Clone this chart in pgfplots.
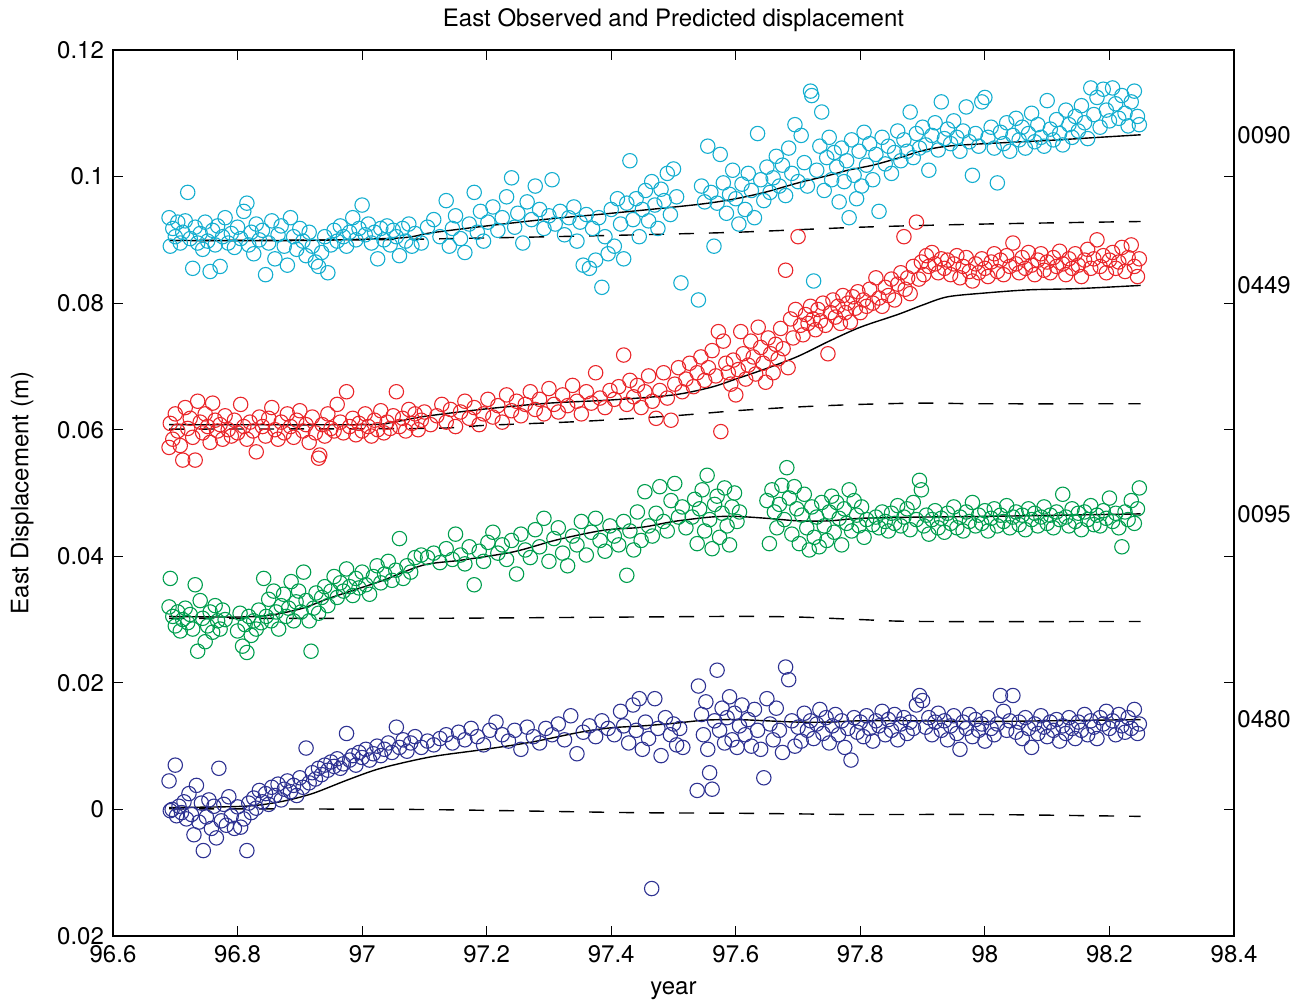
\documentclass[border=0pt]{standalone}
\usepackage{fontspec}
\setmainfont{TeX Gyre Heros}
\usepackage{pgfplots}
\pgfplotsset{compat=1.18}
\definecolor{cyanC}{RGB}{20,174,208}
\definecolor{redC}{RGB}{234,38,42}
\definecolor{greenC}{RGB}{0,158,78}
\definecolor{blueC}{RGB}{46,50,146}
\begin{document}
\begin{tikzpicture}
\begin{axis}[
  scale only axis, width=560.5pt, height=443pt,
  xmin=96.6, xmax=98.4, ymin=-0.02, ymax=0.12,
  xtick={96.6,96.8,97,97.2,97.4,97.6,97.8,98,98.2,98.4},
  ytick={-0.02,0,0.02,0.04,0.06,0.08,0.1,0.12},
  yticklabels={0.02,0,0.02,0.04,0.06,0.08,0.1,0.12},
  scaled x ticks=false, scaled y ticks=false,
  /pgf/number format/assume math mode=true,
  /pgf/number format/precision=1,
  tick align=inside, major tick length=5pt,
  tick style={black, line width=0.6pt},
  axis line style={line width=1pt},
  every axis/.append style={font=\fontsize{12}{14}\selectfont},
  tick label style={font=\fontsize{12}{14}\selectfont},
  xticklabel style={yshift=-1pt},
  yticklabel style={xshift=-1pt},
  xlabel={year},
  xlabel style={font=\fontsize{12}{14}\selectfont, at={(axis description cs:0.5,-0.062)}, anchor=center, yshift=0pt},
  ylabel={East Displacement (m)},
  ylabel style={font=\fontsize{12}{14}\selectfont, at={(axis description cs:-0.081,0.5)}, anchor=center},
  clip=false,
]
\coordinate (bl) at (rel axis cs:0,0);
\coordinate (tr) at (rel axis cs:1,1);
\node[anchor=center, font=\fontsize{12}{14}\selectfont] at (rel axis cs:0.5,1.034) {East Observed and Predicted displacement};
% 0480 blue
\addplot[only marks, mark=o, color=blueC, mark size=3.6pt, mark options={line width=0.55pt}] table {
x y
96.690 0.0045
96.692 -0.0002
96.695 0.0000
96.700 0.0070
96.702 -0.0010
96.706 0.0005
96.710 -0.0005
96.714 0.0012
96.718 -0.0015
96.722 0.0025
96.726 -0.0008
96.730 -0.0040
96.734 0.0038
96.738 -0.0020
96.742 0.0010
96.745 -0.0065
96.750 -0.0012
96.754 0.0015
96.758 -0.0030
96.762 0.0005
96.766 -0.0045
96.770 0.0065
96.774 -0.0018
96.778 0.0008
96.782 -0.0025
96.786 0.0020
96.790 -0.0010
96.795 -0.0030
96.800 0.0004
96.805 -0.0028
96.810 -0.0015
96.815 -0.0065
96.818 0.0010
96.822 -0.0005
96.826 0.0018
96.830 0.0002
96.835 0.0030
96.840 0.0012
96.845 0.0025
96.850 0.0008
96.855 0.0035
96.860 0.0022
96.865 0.0040
96.870 0.0015
96.875 0.0032
96.880 0.0045
96.885 0.0028
96.890 0.0038
96.895 0.0022
96.900 0.0050
96.905 0.0035
96.910 0.0097
96.915 0.0042
96.920 0.0058
96.925 0.0048
96.930 0.0065
96.935 0.0055
96.940 0.0070
96.945 0.0062
96.950 0.0075
96.955 0.0068
96.960 0.0080
96.965 0.0065
96.970 0.0072
96.975 0.0120
96.980 0.0078
96.985 0.0085
96.990 0.0070
96.995 0.0090
97.000 0.0082
97.006 0.0095
97.012 0.0078
97.018 0.0088
97.024 0.0100
97.030 0.0085
97.036 0.0095
97.042 0.0105
97.048 0.0090
97.055 0.0130
97.060 0.0098
97.066 0.0110
97.072 0.0092
97.078 0.0105
97.085 0.0115
97.095 0.0098
97.105 0.0108
97.115 0.0102
97.125 0.0112
97.135 0.0118
97.145 0.0105
97.155 0.0122
97.165 0.0110
97.175 0.0128
97.185 0.0115
97.195 0.0102
97.205 0.0125
97.215 0.0138
97.225 0.0118
97.235 0.0108
97.245 0.0125
97.255 0.0095
97.265 0.0130
97.275 0.0115
97.285 0.0105
97.295 0.0128
97.305 0.0118
97.315 0.0135
97.325 0.0110
97.335 0.0148
97.345 0.0088
97.355 0.0122
97.365 0.0132
97.375 0.0115
97.385 0.0140
97.395 0.0128
97.405 0.0118
97.415 0.0155
97.420 0.0132
97.428 0.0105
97.435 0.0165
97.440 0.0125
97.445 0.0175
97.450 0.0095
97.455 0.0138
97.460 0.0112
97.465 -0.0125
97.470 0.0175
97.475 0.0128
97.480 0.0085
97.487 0.0145
97.495 0.0118
97.500 0.0135
97.505 0.0102
97.510 0.0128
97.515 0.0098
97.538 0.0030
97.540 0.0195
97.545 0.0150
97.548 0.0118
97.552 0.0170
97.555 0.0095
97.558 0.0058
97.562 0.0032
97.566 0.0140
97.570 0.0220
97.574 0.0125
97.578 0.0160
97.582 0.0105
97.586 0.0145
97.590 0.0178
97.594 0.0110
97.598 0.0152
97.602 0.0098
97.606 0.0132
97.610 0.0165
97.615 0.0118
97.620 0.0142
97.625 0.0100
97.630 0.0158
97.635 0.0125
97.640 0.0095
97.645 0.0050
97.650 0.0175
97.655 0.0135
97.660 0.0110
97.665 0.0160
97.670 0.0125
97.675 0.0090
97.680 0.0225
97.685 0.0205
97.690 0.0140
97.695 0.0100
97.700 0.0130
97.705 0.0108
97.710 0.0152
97.715 0.0125
97.720 0.0140
97.725 0.0112
97.730 0.0135
97.735 0.0158
97.740 0.0120
97.745 0.0145
97.750 0.0105
97.755 0.0132
97.760 0.0150
97.765 0.0118
97.770 0.0140
97.775 0.0098
97.780 0.0128
97.785 0.0078
97.790 0.0145
97.795 0.0122
97.800 0.0138
97.805 0.0115
97.810 0.0148
97.815 0.0128
97.820 0.0108
97.825 0.0140
97.830 0.0132
97.835 0.0155
97.840 0.0118
97.845 0.0142
97.850 0.0125
97.855 0.0150
97.860 0.0110
97.865 0.0135
97.870 0.0145
97.875 0.0120
97.880 0.0138
97.885 0.0128
97.890 0.0165
97.895 0.0180
97.900 0.0172
97.905 0.0130
97.910 0.0145
97.915 0.0118
97.920 0.0138
97.925 0.0152
97.930 0.0125
97.935 0.0140
97.940 0.0110
97.945 0.0132
97.950 0.0148
97.955 0.0120
97.960 0.0095
97.965 0.0138
97.970 0.0128
97.975 0.0150
97.980 0.0115
97.985 0.0142
97.990 0.0125
97.995 0.0135
98.000 0.0108
98.005 0.0145
98.010 0.0128
98.015 0.0118
98.020 0.0135
98.025 0.0180
98.030 0.0155
98.035 0.0125
98.040 0.0140
98.045 0.0180
98.050 0.0122
98.055 0.0138
98.060 0.0112
98.065 0.0145
98.070 0.0128
98.075 0.0098
98.080 0.0135
98.085 0.0120
98.090 0.0148
98.095 0.0130
98.100 0.0115
98.105 0.0138
98.110 0.0125
98.115 0.0142
98.120 0.0108
98.125 0.0132
98.130 0.0120
98.135 0.0145
98.140 0.0128
98.145 0.0112
98.150 0.0138
98.155 0.0125
98.160 0.0150
98.165 0.0118
98.170 0.0140
98.175 0.0130
98.180 0.0112
98.185 0.0145
98.190 0.0135
98.195 0.0155
98.200 0.0128
98.205 0.0140
98.210 0.0118
98.215 0.0150
98.220 0.0132
98.225 0.0122
98.230 0.0145
98.235 0.0128
98.240 0.0158
98.245 0.0120
98.248 0.0135
};
% 0095 green
\addplot[only marks, mark=o, color=greenC, mark size=3.6pt, mark options={line width=0.55pt}] table {
x y
96.690 0.0320
96.692 0.0365
96.696 0.0305
96.700 0.0290
96.704 0.0312
96.708 0.0282
96.712 0.0300
96.716 0.0318
96.720 0.0295
96.724 0.0308
96.728 0.0285
96.732 0.0355
96.736 0.0250
96.740 0.0330
96.744 0.0302
96.748 0.0265
96.752 0.0290
96.756 0.0312
96.760 0.0280
96.764 0.0322
96.768 0.0298
96.772 0.0285
96.776 0.0315
96.780 0.0300
96.800 0.0282
96.804 0.0310
96.808 0.0258
96.812 0.0292
96.815 0.0248
96.818 0.0305
96.822 0.0275
96.826 0.0298
96.830 0.0285
96.834 0.0315
96.838 0.0295
96.842 0.0365
96.846 0.0305
96.850 0.0332
96.854 0.0298
96.858 0.0345
96.862 0.0312
96.866 0.0285
96.870 0.0322
96.874 0.0340
96.878 0.0305
96.882 0.0318
96.886 0.0360
96.890 0.0298
96.894 0.0328
96.898 0.0345
96.902 0.0312
96.906 0.0375
96.910 0.0330
96.915 0.0298
96.918 0.0250
96.922 0.0318
96.926 0.0342
96.930 0.0310
96.935 0.0335
96.940 0.0352
96.945 0.0322
96.950 0.0345
96.955 0.0368
96.960 0.0335
96.965 0.0358
96.970 0.0345
96.975 0.0380
96.980 0.0352
96.985 0.0338
96.990 0.0365
96.995 0.0350
97.000 0.0375
97.006 0.0355
97.012 0.0340
97.018 0.0368
97.024 0.0385
97.030 0.0358
97.036 0.0372
97.042 0.0392
97.048 0.0362
97.054 0.0378
97.060 0.0428
97.066 0.0365
97.072 0.0385
97.078 0.0375
97.085 0.0398
97.095 0.0402
97.105 0.0398
97.115 0.0405
97.125 0.0390
97.135 0.0412
97.145 0.0395
97.150 0.0435
97.158 0.0402
97.165 0.0388
97.172 0.0415
97.180 0.0355
97.188 0.0408
97.195 0.0392
97.202 0.0422
97.210 0.0438
97.218 0.0405
97.225 0.0418
97.232 0.0395
97.240 0.0425
97.248 0.0372
97.255 0.0435
97.262 0.0410
97.270 0.0398
97.278 0.0442
97.285 0.0415
97.292 0.0460
97.300 0.0392
97.308 0.0428
97.315 0.0445
97.322 0.0405
97.330 0.0385
97.338 0.0432
97.345 0.0418
97.352 0.0455
97.360 0.0402
97.368 0.0438
97.375 0.0460
97.382 0.0425
97.390 0.0408
97.398 0.0448
97.405 0.0432
97.412 0.0418
97.420 0.0455
97.425 0.0370
97.430 0.0440
97.436 0.0410
97.442 0.0470
97.448 0.0425
97.454 0.0502
97.460 0.0448
97.466 0.0432
97.472 0.0468
97.478 0.0510
97.484 0.0455
97.490 0.0440
97.496 0.0488
97.502 0.0515
97.508 0.0462
97.514 0.0478
97.520 0.0445
97.530 0.0462
97.534 0.0490
97.538 0.0420
97.542 0.0475
97.546 0.0505
97.550 0.0440
97.554 0.0528
97.558 0.0458
97.562 0.0412
97.566 0.0482
97.570 0.0495
97.574 0.0430
97.578 0.0468
97.582 0.0508
97.586 0.0448
97.590 0.0418
97.594 0.0478
97.598 0.0500
97.602 0.0455
97.606 0.0470
97.650 0.0488
97.654 0.0420
97.658 0.0505
97.662 0.0470
97.666 0.0445
97.670 0.0482
97.674 0.0512
97.678 0.0458
97.682 0.0540
97.686 0.0492
97.690 0.0435
97.694 0.0510
97.698 0.0475
97.702 0.0420
97.706 0.0465
97.710 0.0498
97.714 0.0445
97.718 0.0410
97.722 0.0478
97.726 0.0430
97.730 0.0462
97.734 0.0415
97.738 0.0485
97.742 0.0448
97.746 0.0425
97.750 0.0470
97.754 0.0495
97.758 0.0438
97.762 0.0485
97.766 0.0460
97.770 0.0418
97.774 0.0475
97.778 0.0452
97.782 0.0505
97.786 0.0440
97.790 0.0488
97.794 0.0465
97.798 0.0448
97.802 0.0478
97.806 0.0430
97.810 0.0458
97.820 0.0450
97.825 0.0462
97.830 0.0445
97.835 0.0470
97.840 0.0455
97.845 0.0440
97.850 0.0468
97.855 0.0452
97.860 0.0480
97.865 0.0448
97.870 0.0462
97.875 0.0475
97.880 0.0442
97.885 0.0485
97.890 0.0458
97.895 0.0520
97.898 0.0505
97.902 0.0448
97.906 0.0465
97.910 0.0435
97.915 0.0458
97.920 0.0472
97.925 0.0445
97.930 0.0460
97.935 0.0438
97.940 0.0468
97.945 0.0452
97.950 0.0478
97.955 0.0445
97.960 0.0462
97.965 0.0440
97.970 0.0470
97.975 0.0455
97.980 0.0485
97.985 0.0448
97.990 0.0465
97.995 0.0452
98.000 0.0472
98.005 0.0440
98.010 0.0460
98.015 0.0475
98.020 0.0448
98.025 0.0465
98.030 0.0455
98.035 0.0480
98.040 0.0445
98.045 0.0462
98.050 0.0470
98.055 0.0450
98.060 0.0465
98.065 0.0442
98.070 0.0475
98.075 0.0458
98.080 0.0468
98.085 0.0448
98.090 0.0462
98.095 0.0478
98.100 0.0452
98.105 0.0465
98.110 0.0445
98.115 0.0470
98.120 0.0458
98.125 0.0498
98.130 0.0462
98.135 0.0448
98.140 0.0475
98.145 0.0455
98.150 0.0468
98.155 0.0442
98.160 0.0470
98.165 0.0458
98.170 0.0480
98.175 0.0450
98.180 0.0465
98.185 0.0448
98.190 0.0472
98.195 0.0460
98.200 0.0492
98.205 0.0455
98.210 0.0468
98.215 0.0445
98.220 0.0415
98.225 0.0470
98.230 0.0458
98.235 0.0488
98.240 0.0452
98.245 0.0475
98.248 0.0508
};
% 0449 red
\addplot[only marks, mark=o, color=redC, mark size=3.6pt, mark options={line width=0.55pt}] table {
x y
96.690 0.0572
96.692 0.0610
96.696 0.0585
96.700 0.0625
96.704 0.0598
96.708 0.0575
96.712 0.0552
96.716 0.0635
96.720 0.0602
96.724 0.0618
96.728 0.0588
96.732 0.0552
96.736 0.0645
96.740 0.0612
96.744 0.0595
96.748 0.0625
96.752 0.0605
96.756 0.0580
96.760 0.0642
96.764 0.0615
96.768 0.0598
96.772 0.0608
96.776 0.0585
96.780 0.0622
96.785 0.0600
96.790 0.0590
96.795 0.0615
96.800 0.0595
96.805 0.0640
96.810 0.0605
96.815 0.0585
96.820 0.0612
96.825 0.0598
96.830 0.0565
96.835 0.0620
96.840 0.0605
96.845 0.0590
96.850 0.0618
96.855 0.0635
96.860 0.0600
96.865 0.0585
96.870 0.0612
96.875 0.0595
96.880 0.0625
96.885 0.0605
96.890 0.0588
96.895 0.0615
96.900 0.0630
96.905 0.0598
96.910 0.0608
96.915 0.0580
96.920 0.0620
96.925 0.0595
96.930 0.0555
96.932 0.0560
96.936 0.0608
96.940 0.0590
96.945 0.0625
96.950 0.0602
96.955 0.0598
96.960 0.0640
96.965 0.0612
96.970 0.0595
96.975 0.0660
96.980 0.0605
96.985 0.0618
96.990 0.0592
96.995 0.0610
97.000 0.0598
97.005 0.0625
97.010 0.0605
97.015 0.0590
97.020 0.0615
97.025 0.0600
97.030 0.0630
97.035 0.0595
97.040 0.0612
97.045 0.0602
97.050 0.0622
97.055 0.0660
97.060 0.0605
97.065 0.0618
97.070 0.0598
97.075 0.0632
97.080 0.0610
97.085 0.0625
97.090 0.0600
97.095 0.0615
97.100 0.0628
97.110 0.0608
97.120 0.0622
97.128 0.0640
97.135 0.0612
97.142 0.0632
97.150 0.0605
97.158 0.0628
97.165 0.0645
97.172 0.0618
97.180 0.0635
97.188 0.0608
97.195 0.0625
97.202 0.0648
97.210 0.0620
97.218 0.0638
97.225 0.0612
97.232 0.0655
97.240 0.0630
97.248 0.0645
97.255 0.0622
97.262 0.0640
97.270 0.0660
97.278 0.0632
97.285 0.0648
97.292 0.0625
97.300 0.0665
97.308 0.0640
97.315 0.0628
97.322 0.0655
97.330 0.0638
97.338 0.0670
97.345 0.0645
97.352 0.0625
97.360 0.0660
97.368 0.0642
97.375 0.0690
97.382 0.0650
97.390 0.0635
97.398 0.0662
97.405 0.0648
97.412 0.0668
97.420 0.0718
97.425 0.0640
97.430 0.0678
97.436 0.0652
97.442 0.0670
97.448 0.0635
97.454 0.0660
97.460 0.0685
97.466 0.0645
97.472 0.0618
97.478 0.0662
97.484 0.0690
97.490 0.0650
97.496 0.0615
97.502 0.0672
97.508 0.0698
97.514 0.0660
97.520 0.0680
97.526 0.0705
97.532 0.0668
97.538 0.0690
97.544 0.0715
97.550 0.0678
97.556 0.0698
97.562 0.0725
97.568 0.0685
97.572 0.0755
97.576 0.0597
97.580 0.0740
97.584 0.0705
97.588 0.0690
97.592 0.0672
97.596 0.0710
97.600 0.0655
97.604 0.0695
97.608 0.0755
97.612 0.0720
97.616 0.0680
97.620 0.0702
97.624 0.0740
97.628 0.0715
97.632 0.0688
97.636 0.0762
97.640 0.0730
97.644 0.0705
97.648 0.0675
97.652 0.0745
97.656 0.0720
97.660 0.0690
97.664 0.0735
97.668 0.0712
97.672 0.0760
97.676 0.0728
97.680 0.0852
97.684 0.0698
97.688 0.0775
97.692 0.0745
97.696 0.0790
97.700 0.0905
97.704 0.0765
97.708 0.0750
97.712 0.0782
97.716 0.0768
97.720 0.0795
97.724 0.0775
97.728 0.0758
97.732 0.0790
97.736 0.0772
97.740 0.0800
97.744 0.0765
97.748 0.0720
97.752 0.0785
97.756 0.0805
97.760 0.0778
97.764 0.0795
97.768 0.0768
97.772 0.0812
97.776 0.0785
97.780 0.0800
97.784 0.0770
97.788 0.0810
97.792 0.0792
97.796 0.0818
97.800 0.0785
97.805 0.0805
97.810 0.0795
97.815 0.0822
97.820 0.0800
97.825 0.0840
97.830 0.0808
97.835 0.0795
97.840 0.0825
97.845 0.0812
97.850 0.0838
97.855 0.0805
97.860 0.0830
97.865 0.0848
97.870 0.0905
97.872 0.0822
97.876 0.0840
97.880 0.0815
97.885 0.0858
97.890 0.0928
97.894 0.0838
97.898 0.0865
97.902 0.0845
97.906 0.0875
97.910 0.0858
97.915 0.0880
97.920 0.0862
97.925 0.0848
97.930 0.0870
97.935 0.0855
97.940 0.0868
97.945 0.0845
97.950 0.0862
97.955 0.0875
97.960 0.0840
97.965 0.0858
97.970 0.0872
97.975 0.0850
97.980 0.0835
97.985 0.0862
97.990 0.0848
97.995 0.0870
98.000 0.0855
98.005 0.0842
98.010 0.0865
98.015 0.0878
98.020 0.0850
98.025 0.0868
98.030 0.0845
98.035 0.0875
98.040 0.0858
98.045 0.0895
98.050 0.0862
98.055 0.0848
98.060 0.0872
98.065 0.0855
98.070 0.0880
98.075 0.0860
98.080 0.0845
98.085 0.0868
98.090 0.0878
98.095 0.0852
98.100 0.0865
98.105 0.0848
98.110 0.0872
98.115 0.0858
98.120 0.0882
98.125 0.0862
98.130 0.0845
98.135 0.0870
98.140 0.0855
98.145 0.0878
98.150 0.0860
98.155 0.0842
98.160 0.0868
98.165 0.0885
98.170 0.0855
98.175 0.0870
98.180 0.0900
98.185 0.0858
98.190 0.0875
98.195 0.0848
98.200 0.0868
98.205 0.0880
98.210 0.0855
98.215 0.0865
98.220 0.0888
98.225 0.0850
98.230 0.0872
98.235 0.0892
98.240 0.0858
98.245 0.0842
98.248 0.0870
};
% 0090 cyan
\addplot[only marks, mark=o, color=cyanC, mark size=3.6pt, mark options={line width=0.55pt}] table {
x y
96.690 0.0935
96.692 0.0890
96.696 0.0918
96.700 0.0905
96.704 0.0928
96.708 0.0895
96.712 0.0912
96.716 0.0930
96.720 0.0975
96.724 0.0902
96.728 0.0855
96.732 0.0920
96.736 0.0895
96.740 0.0910
96.744 0.0885
96.748 0.0928
96.752 0.0898
96.756 0.0850
96.760 0.0915
96.764 0.0892
96.768 0.0922
96.772 0.0858
96.776 0.0905
96.780 0.0935
96.785 0.0895
96.790 0.0910
96.795 0.0888
96.800 0.0920
96.805 0.0902
96.810 0.0945
96.815 0.0958
96.818 0.0892
96.822 0.0912
96.826 0.0878
96.830 0.0925
96.835 0.0900
96.840 0.0915
96.845 0.0845
96.850 0.0895
96.855 0.0930
96.860 0.0870
96.865 0.0908
96.870 0.0922
96.875 0.0890
96.880 0.0860
96.885 0.0935
96.890 0.0905
96.895 0.0885
96.900 0.0918
96.905 0.0898
96.910 0.0875
96.915 0.0912
96.920 0.0890
96.925 0.0865
96.930 0.0858
96.935 0.0880
96.940 0.0905
96.945 0.0848
96.950 0.0892
96.955 0.0915
96.960 0.0898
96.965 0.0922
96.970 0.0905
96.975 0.0890
96.980 0.0912
96.985 0.0935
96.990 0.0900
96.995 0.0918
97.000 0.0955
97.005 0.0908
97.010 0.0925
97.015 0.0895
97.020 0.0912
97.025 0.0870
97.030 0.0918
97.035 0.0900
97.040 0.0922
97.045 0.0892
97.050 0.0915
97.055 0.0905
97.060 0.0875
97.065 0.0918
97.070 0.0898
97.075 0.0925
97.080 0.0890
97.085 0.0910
97.095 0.0895
97.105 0.0920
97.115 0.0932
97.125 0.0905
97.135 0.0962
97.140 0.0890
97.145 0.0918
97.150 0.0938
97.158 0.0902
97.165 0.0880
97.172 0.0925
97.180 0.0975
97.185 0.0912
97.190 0.0945
97.195 0.0898
97.202 0.0928
97.210 0.0952
97.218 0.0915
97.225 0.0935
97.232 0.0968
97.240 0.0998
97.245 0.0920
97.250 0.0942
97.258 0.0895
97.265 0.0960
97.272 0.0932
97.278 0.0985
97.285 0.0948
97.292 0.0918
97.300 0.0938
97.305 0.0995
97.310 0.0925
97.318 0.0945
97.325 0.0908
97.332 0.0935
97.340 0.0952
97.345 0.0898
97.350 0.0928
97.355 0.0860
97.360 0.0940
97.365 0.0855
97.370 0.0918
97.375 0.0868
97.380 0.0935
97.385 0.0825
97.390 0.0905
97.395 0.0878
97.400 0.0948
97.405 0.0890
97.410 0.0965
97.415 0.0925
97.420 0.0870
97.425 0.0958
97.430 0.1025
97.435 0.0932
97.440 0.0965
97.445 0.0905
97.450 0.0948
97.455 0.0978
97.460 0.0930
97.465 0.0992
97.470 0.0955
97.475 0.0918
97.480 0.0980
97.485 0.0962
97.490 0.1005
97.495 0.0940
97.500 0.1012
97.505 0.0968
97.512 0.0832
97.540 0.0805
97.545 0.0985
97.550 0.0960
97.555 0.1048
97.560 0.0975
97.565 0.0890
97.570 0.0958
97.575 0.1035
97.580 0.0990
97.585 0.0942
97.590 0.0972
97.595 0.1010
97.600 0.0965
97.605 0.0925
97.610 0.0988
97.615 0.0948
97.620 0.1005
97.625 0.0978
97.630 0.0935
97.635 0.1068
97.640 0.0995
97.645 0.0962
97.650 0.1015
97.655 0.0975
97.660 0.0998
97.665 0.1032
97.670 0.0985
97.675 0.1018
97.680 0.0970
97.685 0.1045
97.690 0.1005
97.695 0.1082
97.700 0.0992
97.705 0.1065
97.710 0.1022
97.715 0.0985
97.720 0.1135
97.722 0.1128
97.725 0.0835
97.730 0.1010
97.735 0.1048
97.738 0.1102
97.742 0.0978
97.746 0.1030
97.750 0.1062
97.754 0.0995
97.758 0.1038
97.762 0.1015
97.766 0.0960
97.770 0.1045
97.774 0.0992
97.778 0.1025
97.782 0.0935
97.786 0.1058
97.790 0.1002
97.794 0.0965
97.798 0.1040
97.802 0.0985
97.806 0.1070
97.810 0.1018
97.815 0.1052
97.820 0.0995
97.825 0.1035
97.830 0.0945
97.835 0.1062
97.840 0.1020
97.845 0.1048
97.850 0.1005
97.855 0.1038
97.860 0.1072
97.865 0.1025
97.870 0.1058
97.875 0.1040
97.880 0.1102
97.885 0.1030
97.890 0.1068
97.895 0.1045
97.900 0.1078
97.905 0.1050
97.910 0.1010
97.915 0.1065
97.920 0.1085
97.925 0.1042
97.930 0.1118
97.935 0.1060
97.940 0.1075
97.945 0.1052
97.950 0.1088
97.955 0.1062
97.960 0.1040
97.965 0.1072
97.970 0.1110
97.975 0.1055
97.980 0.1002
97.985 0.1068
97.990 0.1048
97.995 0.1118
98.000 0.1125
98.005 0.1062
98.010 0.1078
98.015 0.1045
98.020 0.0990
98.025 0.1070
98.030 0.1052
98.035 0.1085
98.040 0.1040
98.045 0.1065
98.050 0.1092
98.055 0.1058
98.060 0.1078
98.065 0.1045
98.070 0.1068
98.075 0.1100
98.080 0.1055
98.085 0.1082
98.090 0.1062
98.095 0.1048
98.100 0.1120
98.105 0.1075
98.110 0.1058
98.115 0.1090
98.120 0.1068
98.125 0.1050
98.130 0.1105
98.135 0.1082
98.140 0.1062
98.145 0.1095
98.150 0.1072
98.155 0.1112
98.160 0.1085
98.165 0.1060
98.170 0.1140
98.175 0.1098
98.180 0.1125
98.185 0.1078
98.190 0.1138
98.195 0.1105
98.200 0.1088
98.205 0.1140
98.210 0.1115
98.215 0.1092
98.220 0.1128
98.225 0.1100
98.230 0.1080
98.235 0.1118
98.240 0.1135
98.245 0.1095
98.248 0.1082
};
% predicted lines (solid)
\addplot[black, line width=0.7pt, smooth] coordinates {(96.69,0.0899) (96.9,0.0899) (97.06,0.0903) (97.11,0.0911) (97.2,0.0922) (97.3,0.0933) (97.4,0.0942) (97.54,0.0956) (97.6,0.0965) (97.65,0.0976) (97.7,0.0990) (97.75,0.1002) (97.78,0.1010) (97.82,0.1018) (97.86,0.1029) (97.9,0.1041) (97.94,0.1048) (98.0,0.1052) (98.1,0.1057) (98.2,0.1063) (98.25,0.1066)};
\addplot[black, line width=0.7pt, smooth] coordinates {(96.69,0.0608) (97.0,0.0608) (97.05,0.0612) (97.1,0.0621) (97.2,0.0633) (97.3,0.0642) (97.4,0.0647) (97.5,0.0655) (97.56,0.0667) (97.6,0.0680) (97.65,0.0697) (97.7,0.0716) (97.75,0.0740) (97.8,0.0762) (97.86,0.0782) (97.9,0.0797) (97.94,0.0810) (98.0,0.0816) (98.07,0.0821) (98.15,0.0823) (98.25,0.0828)};
\addplot[black, line width=0.7pt, smooth] coordinates {(96.69,0.0305) (96.8,0.0304) (96.853,0.0307) (96.905,0.0318) (96.948,0.0334) (97.028,0.0360) (97.098,0.0386) (97.16,0.0394) (97.243,0.0407) (97.313,0.0426) (97.387,0.0441) (97.45,0.0446) (97.5,0.0455) (97.56,0.0462) (97.6,0.0463) (97.65,0.0460) (97.7,0.0456) (97.75,0.0456) (97.8,0.0460) (97.9,0.0462) (98.0,0.0463) (98.25,0.0467)};
\addplot[black, line width=0.7pt, smooth] coordinates {(96.69,0.0003) (96.81,0.0005) (96.868,0.0012) (96.92,0.0025) (96.975,0.0046) (97.03,0.0065) (97.11,0.0083) (97.19,0.0094) (97.27,0.0106) (97.35,0.0122) (97.40,0.0129) (97.45,0.0132) (97.5,0.0136) (97.55,0.0141) (97.6,0.0142) (97.65,0.0140) (97.7,0.0138) (97.75,0.0138) (97.8,0.0140) (97.9,0.0140) (98.0,0.0139) (98.1,0.0140) (98.25,0.0142)};
% dashed lines
\addplot[black, line width=0.7pt, dash pattern=on 7.5pt off 7.5pt, smooth] coordinates {(96.69,0.0899) (97.0,0.0900) (97.2,0.0903) (97.4,0.0907) (97.6,0.0912) (97.8,0.0920) (98.0,0.0925) (98.25,0.0929)};
\addplot[black, line width=0.7pt, dash pattern=on 7.5pt off 7.5pt, smooth] coordinates {(96.69,0.0601) (97.1,0.0602) (97.2,0.0607) (97.35,0.0613) (97.5,0.0622) (97.6,0.0630) (97.7,0.0636) (97.8,0.0640) (97.9,0.0642) (98.0,0.0641) (98.25,0.0641)};
\addplot[black, line width=0.7pt, dash pattern=on 7.5pt off 7.5pt, smooth] coordinates {(96.69,0.0302) (97.1,0.0302) (97.43,0.0304) (97.6,0.0305) (97.7,0.0304) (97.8,0.0300) (97.9,0.0297) (98.25,0.0297)};
\addplot[black, line width=0.7pt, dash pattern=on 7.5pt off 7.5pt, smooth] coordinates {(96.69,0.0001) (97.08,0.0000) (97.43,-0.0005) (97.6,-0.0006) (97.8,-0.0008) (98.0,-0.0008) (98.25,-0.0011)};
% station names
\node[anchor=west, inner sep=0pt, xshift=1.5pt] at (axis cs:98.4,0.1066) {0090};
\node[anchor=west, inner sep=0pt, xshift=1.5pt] at (axis cs:98.4,0.0828) {0449};
\node[anchor=west, inner sep=0pt, xshift=1.5pt] at (axis cs:98.4,0.0467) {0095};
\node[anchor=west, inner sep=0pt, xshift=1.5pt] at (axis cs:98.4,0.0142) {0480};
\end{axis}
\pgfresetboundingbox
\path[use as bounding box] ([xshift=-56.5pt,yshift=-32.5pt]bl) rectangle ([xshift=35.5pt,yshift=25pt]tr);
\end{tikzpicture}
\end{document}
